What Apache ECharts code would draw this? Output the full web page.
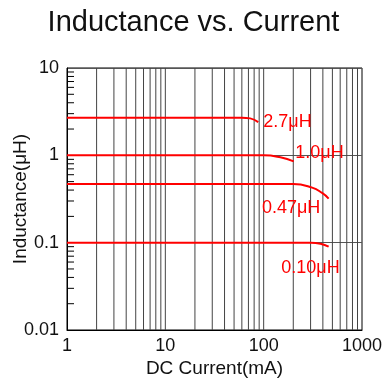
<!DOCTYPE html>
<html>
<head>
<meta charset="utf-8">
<script src="https://cdn.jsdelivr.net/npm/echarts@6/dist/echarts.min.js"></script>
<style>
  html, body { margin: 0; padding: 0; background: #fff; }
  #chart { width: 387px; height: 387px; }
</style>
</head>
<body>
<div id="chart"></div>
<script>
// curves: DC current (mA) vs inductance (uH)
const current27 = [1, 60, 73, 88];
const induct27 = [2.7, 2.7, 2.65, 2.4];
const current10 = [1, 100, 148, 202];
const induct10 = [1.0, 1.0, 0.95, 0.854];
const current047 = [1, 200, 311, 393, 458];
const induct047 = [0.47, 0.47, 0.427, 0.371, 0.32];
const current010 = [1, 300, 378, 458];
const induct010 = [0.1, 0.1, 0.0974, 0.09];

const seriesNames = ['2.7\u03bcH', '1.0\u03bcH', '0.47\u03bcH', '0.10\u03bcH'];
// label anchor (left edge, middle) in data coordinates
const labelCoords = [[99, 2.4], [210, 1.05], [96, 0.248], [151, 0.0514]];

// vertical grid lines
const xGridValues = [2, 3, 4, 5, 6, 7, 8, 9, 10,
  20, 30, 40, 50, 60, 70, 80, 90, 100,
  200, 300, 400, 500, 600, 700, 800, 900];
// minor ticks on the y axis
const yMinorTicks = [0.02, 0.03, 0.04, 0.05, 0.06, 0.07, 0.08, 0.09,
  0.2, 0.3, 0.4, 0.5, 0.6, 0.7, 0.8, 0.9,
  2, 3, 4, 5, 6, 7, 8, 9];

const FONT = "'Liberation Sans', Arial, sans-serif";
const RED = '#ff0000';

const chart = echarts.init(document.getElementById('chart'), null, { renderer: 'canvas' });

function curve(name, xs, ys, coord) {
  return {
    name: name,
    type: 'line',
    data: xs.map((x, i) => [x, ys[i]]),
    smooth: true,
    symbol: 'none',
    lineStyle: { color: RED, width: 2 },
    z: 5,
    markPoint: {
      symbol: 'circle',
      symbolSize: 0,
      data: [{ coord: coord }],
      label: {
        show: true,
        position: 'right',
        distance: 0,
        formatter: name,
        color: RED,
        fontFamily: FONT,
        fontSize: 18
      }
    }
  };
}

const plainNum = v => String(+(+v).toPrecision(3));

const option = {
  animation: false,
  title: {
    text: 'Inductance vs. Current',
    left: 'center',
    top: 3,
    textStyle: { fontFamily: FONT, fontSize: 29, fontWeight: 'normal', color: '#111' }
  },
  grid: {
    left: 67, right: 25, top: 68, bottom: 57,
    containLabel: false,
    outerBoundsMode: 'none',
    show: true, borderColor: '#000', borderWidth: 1
  },
  xAxis: {
    type: 'log',
    logBase: 10,
    min: 1,
    max: 1000,
    name: 'DC Current(mA)',
    nameLocation: 'middle',
    nameGap: 29,
    nameMoveOverlap: false,
    nameTextStyle: { fontFamily: FONT, fontSize: 19, color: '#111' },
    axisLine: { show: true, lineStyle: { color: '#000', width: 1 } },
    axisTick: { show: false },
    splitLine: { show: false },
    axisLabel: { fontFamily: FONT, fontSize: 18, color: '#111', margin: 7, formatter: plainNum }
  },
  yAxis: {
    type: 'log',
    logBase: 10,
    min: 0.01,
    max: 10,
    name: 'Inductance(\u03bcH)',
    nameLocation: 'middle',
    nameGap: 37,
    nameMoveOverlap: false,
    nameTextStyle: { fontFamily: FONT, fontSize: 19, color: '#111' },
    axisLine: { show: true, lineStyle: { color: '#000', width: 1 } },
    axisTick: { show: false },
    splitLine: { show: true, lineStyle: { color: '#555', width: 1 } },
    axisLabel: { fontFamily: FONT, fontSize: 18, color: '#111', margin: 8, formatter: plainNum }
  },
  series: [
    {
      type: 'custom',
      silent: true,
      z: 1,
      data: xGridValues.map(v => [v]),
      renderItem: (params, api) => {
        const top = api.coord([api.value(0), 10]);
        const bottom = api.coord([api.value(0), 0.01]);
        return {
          type: 'line',
          shape: { x1: top[0], y1: top[1], x2: bottom[0], y2: bottom[1] },
          style: { stroke: '#444', lineWidth: 1 }
        };
      }
    },
    {
      type: 'custom',
      silent: true,
      z: 2,
      data: yMinorTicks.map(v => [1, v]),
      renderItem: (params, api) => {
        const p = api.coord([api.value(0), api.value(1)]);
        return {
          type: 'line',
          shape: { x1: p[0], y1: p[1], x2: p[0] + 7, y2: p[1] },
          style: { stroke: '#000', lineWidth: 1 }
        };
      }
    },
    curve(seriesNames[0], current27, induct27, labelCoords[0]),
    curve(seriesNames[1], current10, induct10, labelCoords[1]),
    curve(seriesNames[2], current047, induct047, labelCoords[2]),
    curve(seriesNames[3], current010, induct010, labelCoords[3])
  ]
};

chart.setOption(option);
</script>
</body>
</html>
